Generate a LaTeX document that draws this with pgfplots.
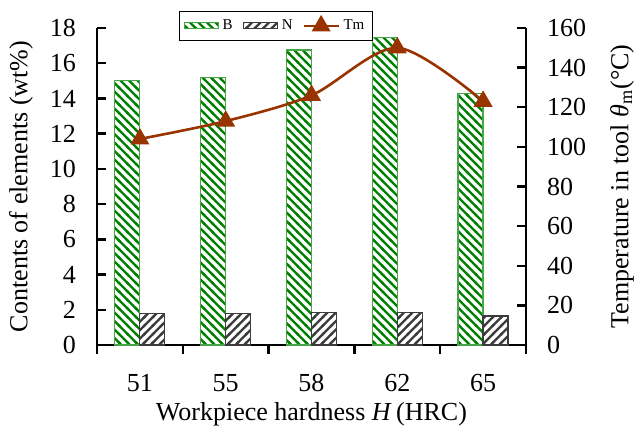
\documentclass[border=0pt]{standalone}
\usepackage{fontspec}
\setmainfont{Liberation Serif}
\usepackage{pgfplots}
\pgfplotsset{compat=1.18}
\usetikzlibrary{patterns}
\definecolor{bgreen}{RGB}{0,128,0}
\definecolor{bgreenedge}{RGB}{70,165,70}
\definecolor{ngray}{RGB}{60,60,60}
\definecolor{tmcol}{RGB}{153,51,0}
\pgfdeclarepatternformonly{bignwl}{\pgfqpoint{-1pt}{-1pt}}{\pgfqpoint{5.25pt}{5.25pt}}{\pgfqpoint{4.25pt}{4.25pt}}{%
  \pgfsetlinewidth{1.1pt}%
  \pgfpathmoveto{\pgfqpoint{-0.5pt}{4.75pt}}%
  \pgfpathlineto{\pgfqpoint{4.75pt}{-0.5pt}}%
  \pgfusepath{stroke}}
\pgfdeclarepatternformonly{bignel}{\pgfqpoint{-1pt}{-1pt}}{\pgfqpoint{5.25pt}{5.25pt}}{\pgfqpoint{4.25pt}{4.25pt}}{%
  \pgfsetlinewidth{1.1pt}%
  \pgfpathmoveto{\pgfqpoint{-0.5pt}{-0.5pt}}%
  \pgfpathlineto{\pgfqpoint{4.75pt}{4.75pt}}%
  \pgfusepath{stroke}}
\pgfplotsset{
  barleg/.style={legend image code/.code={\draw[##1] (0pt,-1.5pt) rectangle (17pt,1.5pt);}},
  common/.style={
    scale only axis, width=214.5pt, height=158.5pt,
    xmin=-0.5, xmax=4.5,
    axis line style={line width=1.2pt},
    tick align=inside, major tick length=4.5pt,
    tick style={line width=1.2pt, black},
    font=\fontsize{13}{15}\selectfont,
    /pgf/number format/assume math mode=true,
  }
}
\begin{document}
\begin{tikzpicture}
\begin{axis}[common,
  at={(0,0)}, anchor=south west,
  ymin=0, ymax=18,
  ybar=0pt, bar width=12.5pt,
  axis x line*=bottom, axis y line*=left,
  xtick={-0.5,0.5,...,4.5}, x tick label as interval,
  xticklabels={51,55,58,62,65},
  ytick={0,2,...,18},
  yticklabel style={anchor=east, xshift=-7pt},
  xticklabel style={yshift=-6.5pt},
  ylabel={Contents of elements (wt\%)},
  ylabel style={at={(axis description cs:-0.177,0.5)}, anchor=center},
  xlabel={Workpiece hardness \textit{H}\,(HRC)},
  xlabel style={at={(axis description cs:0.5,-0.219)}, anchor=center},
]
\addplot[pattern=bignwl, pattern color=bgreen, draw=bgreenedge, line width=0.6pt]
  coordinates {(0,15.0) (1,15.2) (2,16.75) (3,17.45) (4,14.3)};
\addplot[pattern=bignel, pattern color=ngray, draw=ngray, line width=0.6pt]
  coordinates {(0,1.8) (1,1.8) (2,1.86) (3,1.86) (4,1.65)};
\end{axis}
\begin{axis}[common,
  at={(0,0)}, anchor=south west,
  ymin=0, ymax=160,
  axis y line*=right, axis x line=none,
  ytick={0,20,...,160},
  yticklabel style={anchor=west, xshift=7pt},
  ylabel={Temperature in tool \textit{θ}\textsubscript{m}(°C)},
  ylabel style={at={(axis description cs:1.224,0.5)}, anchor=center},
  legend columns=3,
  legend style={at={(axis description cs:0.191,1.054)}, anchor=north west,
    draw=black, line width=0.6pt, font=\fontsize{7.5}{9}\selectfont,
    inner sep=2pt,
    /tikz/every even column/.append style={column sep=3pt}},
]
\addlegendimage{barleg, pattern=bignwl, pattern color=bgreen, draw=bgreenedge, line width=0.6pt}
\addlegendentry{B}
\addlegendimage{barleg, pattern=bignel, pattern color=ngray, draw=ngray, line width=0.6pt}
\addlegendentry{N}
\addplot[tmcol, line width=1.3pt, smooth, mark=triangle*, mark size=4.2pt, mark options={solid}]
  coordinates {(0,104) (1,113) (2,126) (3,150) (4,123)};
\addlegendentry{Tm}
\end{axis}
\pgfresetboundingbox
\useasboundingbox (-48.5pt,-45.5pt) rectangle (270.5pt,172.5pt);
\end{tikzpicture}
\end{document}
